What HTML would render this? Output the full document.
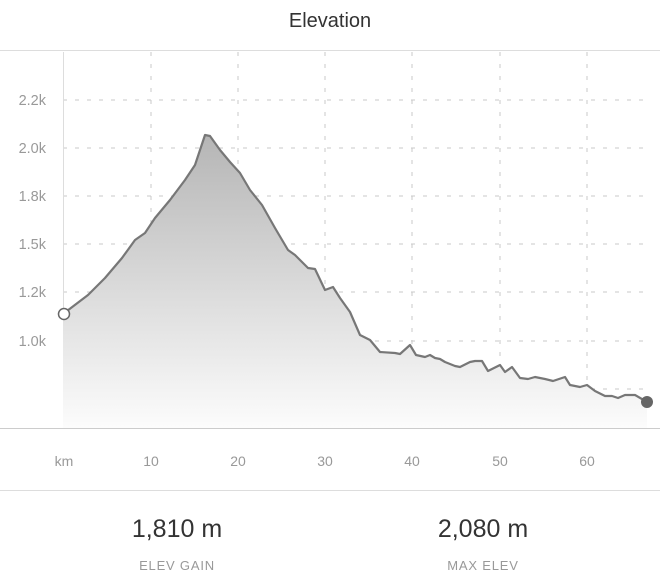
<!DOCTYPE html>
<html><head><style>
body{margin:0;background:#fff;width:660px;height:587px;overflow:hidden;font-family:"Liberation Sans",sans-serif}
</style></head><body>
<svg width="660" height="587" xmlns="http://www.w3.org/2000/svg" style="position:absolute;left:0;top:0">
<defs><linearGradient id="g" gradientUnits="userSpaceOnUse" x1="0" y1="130" x2="0" y2="428">
<stop offset="0" stop-color="#b4b4b4"/><stop offset="1" stop-color="#fcfcfc"/></linearGradient></defs>
<text x="330" y="27" text-anchor="middle" font-size="20" fill="#333">Elevation</text>
<line x1="0" y1="50.5" x2="660" y2="50.5" stroke="#ddd"/>
<line x1="0" y1="428.5" x2="660" y2="428.5" stroke="#ccc"/>
<line x1="0" y1="490.5" x2="660" y2="490.5" stroke="#ddd"/>
<g stroke="#c8c8c8" stroke-dasharray="4,8">
<line x1="63" y1="100" x2="647" y2="100"/><line x1="63" y1="148" x2="647" y2="148"/>
<line x1="63" y1="196" x2="647" y2="196"/><line x1="63" y1="244" x2="647" y2="244"/>
<line x1="63" y1="292" x2="647" y2="292"/><line x1="63" y1="341" x2="647" y2="341"/>
<line x1="63" y1="389" x2="647" y2="389"/>
<line x1="151" y1="52" x2="151" y2="428"/><line x1="238" y1="52" x2="238" y2="428"/>
<line x1="325" y1="52" x2="325" y2="428"/><line x1="412" y1="52" x2="412" y2="428"/>
<line x1="500" y1="52" x2="500" y2="428"/><line x1="587" y1="52" x2="587" y2="428"/>
</g>
<line x1="63.5" y1="52" x2="63.5" y2="428" stroke="#ddd"/>
<g font-size="14.5" fill="#999" text-anchor="end">
<text x="46" y="105">2.2k</text><text x="46" y="153">2.0k</text><text x="46" y="201">1.8k</text>
<text x="46" y="249">1.5k</text><text x="46" y="297">1.2k</text><text x="46" y="346">1.0k</text>
</g>
<g font-size="14" fill="#999" text-anchor="middle">
<text x="64" y="466">km</text><text x="151" y="466">10</text><text x="238" y="466">20</text>
<text x="325" y="466">30</text><text x="412" y="466">40</text><text x="500" y="466">50</text><text x="587" y="466">60</text>
</g>
<path d="M63,314 L88,295 105,278 122,258 135,240 145,233 155,218 170,200 185,180 195,165 205,135 210,136 220,150 230,162 240,173 250,190 262,205 275,228 288,250 295,255 308,268 315,269 325,290 333,287 340,298 350,312 360,335 370,340 380,352 395,353 400,354 410,345 416,355 425,357 430,355 435,358 440,359 445,362 455,366 460,367 470,362 475,361 482,361 488,371 500,365 505,372 512,367 520,378 528,379 535,377 545,379 553,381 565,377 570,385 580,387 587,385 595,391 605,396 612,396 618,398 625,395 635,395 647,402 L647,428 L63,428 Z" fill="url(#g)"/>
<path d="M63,314 L88,295 105,278 122,258 135,240 145,233 155,218 170,200 185,180 195,165 205,135 210,136 220,150 230,162 240,173 250,190 262,205 275,228 288,250 295,255 308,268 315,269 325,290 333,287 340,298 350,312 360,335 370,340 380,352 395,353 400,354 410,345 416,355 425,357 430,355 435,358 440,359 445,362 455,366 460,367 470,362 475,361 482,361 488,371 500,365 505,372 512,367 520,378 528,379 535,377 545,379 553,381 565,377 570,385 580,387 587,385 595,391 605,396 612,396 618,398 625,395 635,395 647,402" fill="none" stroke="#777" stroke-width="2.2" stroke-linejoin="round"/>
<circle cx="64" cy="314" r="5.5" fill="#fff" stroke="#666" stroke-width="1.5"/>
<circle cx="647" cy="402" r="6" fill="#666"/>
<g text-anchor="middle">
<text x="177" y="537" font-size="25" fill="#333">1,810 m</text>
<text x="483" y="537" font-size="25" fill="#333">2,080 m</text>
<text x="177" y="570" font-size="13" fill="#999" letter-spacing="0.8">ELEV GAIN</text>
<text x="483" y="570" font-size="13" fill="#999" letter-spacing="0.8">MAX ELEV</text>
</g>
</svg>
</body></html>
